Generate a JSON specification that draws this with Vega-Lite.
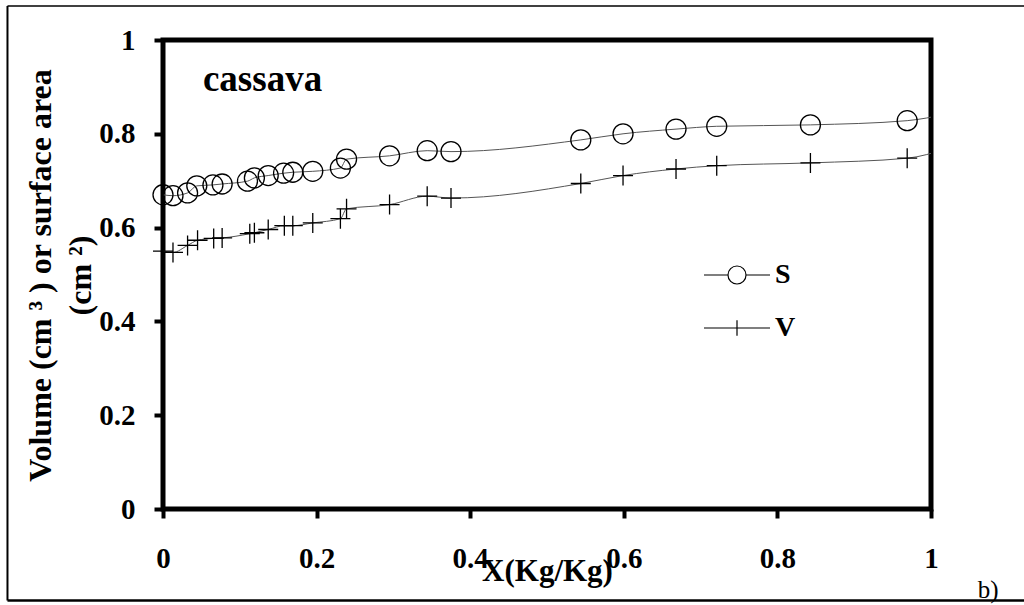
{
  "$schema": "https://vega.github.io/schema/vega-lite/v6.json",
  "autosize": {"type": "none"},
  "padding": {"left": 163, "top": 40, "right": 93, "bottom": 96},
  "width": 768,
  "height": 469,
  "background": "white",
  "config": {
    "view": {"stroke": "black", "strokeWidth": 5},
    "axis": {
      "grid": false,
      "domain": false,
      "ticks": true,
      "tickColor": "black",
      "tickWidth": 4,
      "tickSize": 9,
      "labelFlush": false,
      "labelOverlap": false,
      "labelFont": "Liberation Serif",
      "labelFontWeight": "bold",
      "labelFontSize": 29,
      "labelColor": "black",
      "titleFont": "Liberation Serif",
      "titleFontWeight": "bold",
      "titleColor": "black"
    }
  },
  "resolve": {"scale": {"shape": "independent"}},
  "datasets": {
    "points": [
      {"series": "S", "x": 0.000, "y": 0.670},
      {"series": "S", "x": 0.013, "y": 0.668},
      {"series": "S", "x": 0.032, "y": 0.674},
      {"series": "S", "x": 0.044, "y": 0.689},
      {"series": "S", "x": 0.065, "y": 0.691},
      {"series": "S", "x": 0.077, "y": 0.693},
      {"series": "S", "x": 0.110, "y": 0.699},
      {"series": "S", "x": 0.119, "y": 0.706},
      {"series": "S", "x": 0.137, "y": 0.711},
      {"series": "S", "x": 0.157, "y": 0.716},
      {"series": "S", "x": 0.169, "y": 0.718},
      {"series": "S", "x": 0.195, "y": 0.720},
      {"series": "S", "x": 0.231, "y": 0.727},
      {"series": "S", "x": 0.239, "y": 0.746},
      {"series": "S", "x": 0.295, "y": 0.753},
      {"series": "S", "x": 0.344, "y": 0.764},
      {"series": "S", "x": 0.375, "y": 0.762},
      {"series": "S", "x": 0.544, "y": 0.787},
      {"series": "S", "x": 0.599, "y": 0.800},
      {"series": "S", "x": 0.668, "y": 0.810},
      {"series": "S", "x": 0.721, "y": 0.816},
      {"series": "S", "x": 0.843, "y": 0.819},
      {"series": "S", "x": 0.969, "y": 0.828},
      {"series": "S", "x": 1.020, "y": 0.842},
      {"series": "V", "x": 0.000, "y": 0.550},
      {"series": "V", "x": 0.013, "y": 0.547},
      {"series": "V", "x": 0.032, "y": 0.562},
      {"series": "V", "x": 0.045, "y": 0.573},
      {"series": "V", "x": 0.066, "y": 0.577},
      {"series": "V", "x": 0.077, "y": 0.578},
      {"series": "V", "x": 0.113, "y": 0.587},
      {"series": "V", "x": 0.119, "y": 0.589},
      {"series": "V", "x": 0.137, "y": 0.596},
      {"series": "V", "x": 0.158, "y": 0.604},
      {"series": "V", "x": 0.169, "y": 0.604},
      {"series": "V", "x": 0.195, "y": 0.610},
      {"series": "V", "x": 0.231, "y": 0.619},
      {"series": "V", "x": 0.239, "y": 0.640},
      {"series": "V", "x": 0.295, "y": 0.649},
      {"series": "V", "x": 0.344, "y": 0.667},
      {"series": "V", "x": 0.375, "y": 0.663},
      {"series": "V", "x": 0.544, "y": 0.694},
      {"series": "V", "x": 0.599, "y": 0.711},
      {"series": "V", "x": 0.668, "y": 0.725},
      {"series": "V", "x": 0.721, "y": 0.732},
      {"series": "V", "x": 0.843, "y": 0.738},
      {"series": "V", "x": 0.969, "y": 0.748},
      {"series": "V", "x": 1.020, "y": 0.768}
    ],
    "notes": [
      {"label": "cassava", "x": 0.052, "y": 0.891, "kind": "title"},
      {"label": "b)", "x": 1.061, "y": -0.190, "kind": "panel"}
    ]
  },
  "layer": [
    {
      "data": {"values": [{}]},
      "mark": {"type": "rule", "stroke": "black", "strokeWidth": 2, "clip": false},
      "encoding": {
        "x": {"datum": -0.2025, "type": "quantitative"},
        "y": {"datum": 1.0725, "type": "quantitative"},
        "y2": {"datum": -0.195}
      }
    },
    {
      "data": {"values": [{}]},
      "mark": {"type": "rule", "stroke": "black", "strokeWidth": 1.5, "clip": false},
      "encoding": {
        "x": {"datum": -0.2025, "type": "quantitative"},
        "x2": {"datum": 2.0},
        "y": {"datum": 1.0725, "type": "quantitative"}
      }
    },
    {
      "data": {"values": [{}]},
      "mark": {"type": "rule", "stroke": "black", "strokeWidth": 2.5, "clip": false},
      "encoding": {
        "x": {"datum": -0.2025, "type": "quantitative"},
        "x2": {"datum": 2.0},
        "y": {"datum": -0.195, "type": "quantitative"}
      }
    },
    {
      "data": {"name": "points"},
      "mark": {"type": "line", "interpolate": "monotone", "stroke": "#555555", "strokeWidth": 1, "clip": true},
      "encoding": {
        "x": {
          "field": "x", "type": "quantitative",
          "scale": {"domain": [0, 1], "nice": false, "zero": false},
          "axis": {
            "values": [0, 0.2, 0.4, 0.6, 0.8, 1],
            "format": ".1~f",
            "labelBaseline": "alphabetic",
            "labelPadding": 49,
            "title": "X(Kg/Kg)",
            "titleFontSize": 31,
            "titleBaseline": "alphabetic",
            "titleY": 71
          }
        },
        "y": {
          "field": "y", "type": "quantitative",
          "scale": {"domain": [0, 1], "nice": false, "zero": false},
          "axis": {
            "values": [0, 0.2, 0.4, 0.6, 0.8, 1],
            "format": ".1~f",
            "labelPadding": 19,
            "title": ["Volume (cm ³ ) or surface area", "(cm ²)"],
            "titleFontSize": 32,
            "titleLineHeight": 40,
            "titleAngle": 270,
            "titleAlign": "center",
            "titleBaseline": "bottom",
            "titleX": -106,
            "titleY": 235
          }
        },
        "detail": {"field": "series"}
      }
    },
    {
      "data": {"name": "points"},
      "transform": [{"filter": "datum.x <= 1"}],
      "mark": {"type": "point", "filled": false, "color": "black", "strokeWidth": 1.3, "size": 400, "opacity": 1},
      "encoding": {
        "x": {"field": "x", "type": "quantitative"},
        "y": {"field": "y", "type": "quantitative"},
        "shape": {
          "field": "series", "type": "nominal",
          "scale": {"domain": ["S", "V"], "range": ["circle", "M-1,0H1M0,-1V1"]},
          "legend": null
        }
      }
    },
    {
      "data": {"name": "points"},
      "transform": [{"filter": "datum.x <= 1"}],
      "mark": {"type": "point", "filled": false, "color": "black", "strokeWidth": 1.2, "size": 4, "opacity": 0},
      "encoding": {
        "x": {"field": "x", "type": "quantitative"},
        "y": {"field": "y", "type": "quantitative"},
        "shape": {
          "field": "series", "type": "nominal",
          "scale": {
            "domain": ["S", "V"],
            "range": [
              "M-3,0H-0.82M0.82,0H3M0.82,0A0.82,0.82,0,1,1,-0.82,0A0.82,0.82,0,1,1,0.82,0",
              "M-3,0H3M0,-0.7V0.7"
            ]
          },
          "legend": {
            "title": null,
            "orient": "none",
            "legendX": 560,
            "legendY": 221,
            "padding": 0,
            "rowPadding": 25,
            "symbolSize": 484,
            "symbolOpacity": 1,
            "symbolStrokeWidth": 1.2,
            "symbolStrokeColor": "black",
            "symbolFillColor": "transparent",
            "labelOffset": 24,
            "labelFont": "Liberation Serif",
            "labelFontWeight": "bold",
            "labelFontSize": 28,
            "labelColor": "black"
          }
        }
      }
    },
    {
      "data": {"name": "notes"},
      "transform": [{"filter": "datum.kind === 'title'"}],
      "mark": {"type": "text", "font": "Liberation Serif", "fontWeight": "bold", "fontSize": 37, "align": "left", "baseline": "alphabetic", "color": "black"},
      "encoding": {
        "x": {"field": "x", "type": "quantitative"},
        "y": {"field": "y", "type": "quantitative"},
        "text": {"field": "label"}
      }
    },
    {
      "data": {"name": "notes"},
      "transform": [{"filter": "datum.kind === 'panel'"}],
      "mark": {"type": "text", "font": "Liberation Serif", "fontSize": 25, "align": "left", "baseline": "alphabetic", "color": "black"},
      "encoding": {
        "x": {"field": "x", "type": "quantitative"},
        "y": {"field": "y", "type": "quantitative"},
        "text": {"field": "label"}
      }
    }
  ]
}
